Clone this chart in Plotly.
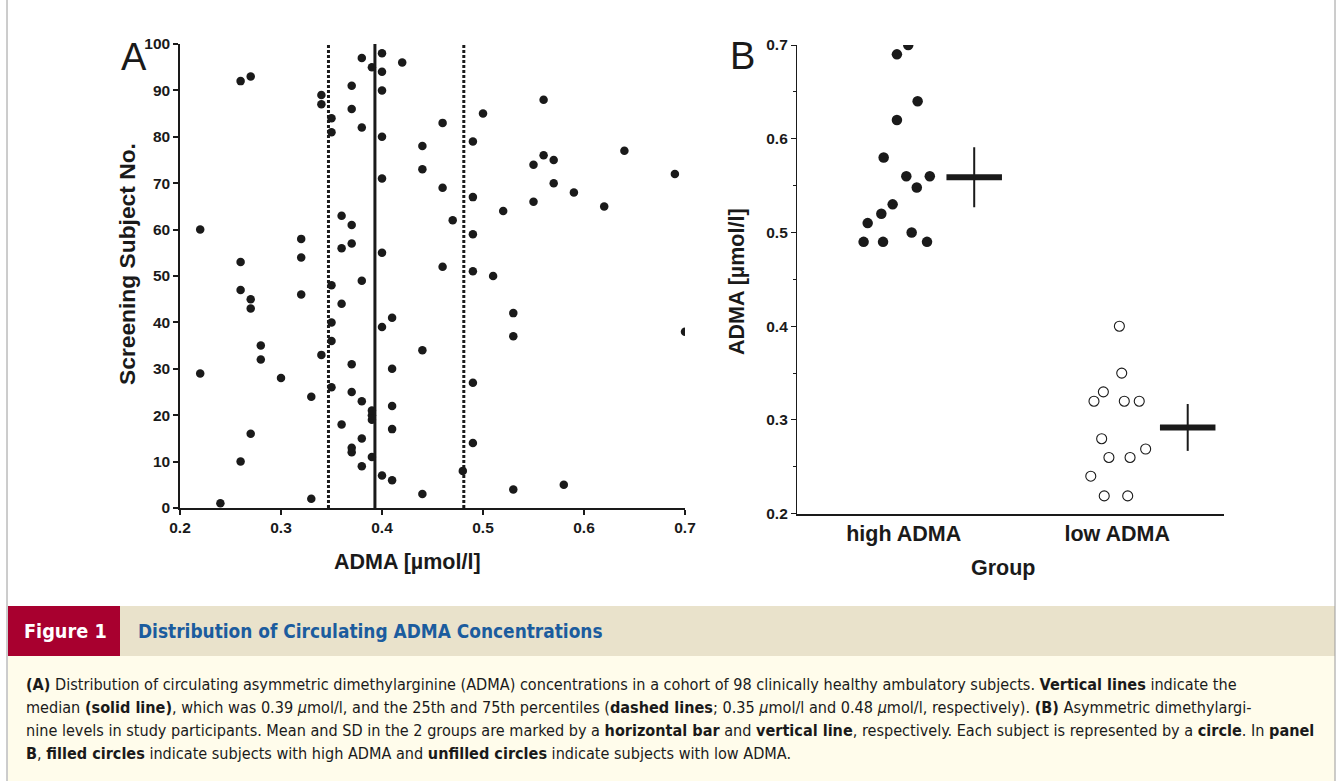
import plotly.graph_objects as go

W, H = 1341, 781

# ---------------- Data ----------------
# Panel A: ADMA concentration (µmol/l) for screening subjects 1..98
subject_no = list(range(1, 99))
adma_values = [
    0.24, 0.33, 0.44, 0.53, 0.58, 0.41, 0.40, 0.48, 0.38, 0.26,
    0.39, 0.37, 0.37, 0.49, 0.38, 0.27, 0.41, 0.36, 0.39, 0.39,
    0.39, 0.41, 0.38, 0.33, 0.37, 0.35, 0.49, 0.30, 0.22, 0.41,
    0.37, 0.28, 0.34, 0.44, 0.28, 0.35, 0.53, 0.70, 0.40, 0.35,
    0.41, 0.53, 0.27, 0.36, 0.27, 0.32, 0.26, 0.35, 0.38, 0.51,
    0.49, 0.46, 0.26, 0.32, 0.40, 0.36, 0.37, 0.32, 0.49, 0.22,
    0.37, 0.47, 0.36, 0.52, 0.62, 0.55, 0.49, 0.59, 0.46, 0.57,
    0.40, 0.69, 0.44, 0.55, 0.57, 0.56, 0.64, 0.44, 0.49, 0.40,
    0.35, 0.38, 0.46, 0.35, 0.50, 0.37, 0.34, 0.56, 0.34, 0.40,
    0.37, 0.26, 0.27, 0.40, 0.39, 0.42, 0.38, 0.40,
]
median_adma = 0.393
p25_adma = 0.347
p75_adma = 0.481
xticks_a = [0.2, 0.3, 0.4, 0.5, 0.6, 0.7]
yticks_a = list(range(0, 101, 10))

# Panel B: groups
groups = ["high ADMA", "low ADMA"]
high_adma = [0.70, 0.69, 0.64, 0.62, 0.58, 0.56, 0.56, 0.548, 0.53, 0.52,
             0.51, 0.50, 0.49, 0.49, 0.49]
high_jitter = [0.021, -0.032, 0.065, -0.032, -0.094, 0.012, 0.122, 0.061,
               -0.052, -0.105, -0.169, 0.037, -0.188, -0.097, 0.109]
low_adma = [0.40, 0.35, 0.33, 0.32, 0.32, 0.32, 0.28, 0.269, 0.26, 0.26,
            0.24, 0.219, 0.219]
low_jitter = [0.010, 0.021, -0.065, -0.109, 0.033, 0.103, -0.073, 0.133,
              -0.039, 0.060, -0.124, -0.061, 0.049]
group_mean = [0.559, 0.292]
group_sd = [0.032, 0.025]
yticks_b = [0.2, 0.3, 0.4, 0.5, 0.6, 0.7]

# ---------------- Helpers ----------------
def pxx(x):
    return x / W


def pxy(y):
    return 1 - y / H


FONT = "Liberation Sans, Arial, Helvetica, sans-serif"
NARROW = "DejaVu Sans Condensed, Liberation Sans Narrow, Arial Narrow, sans-serif"
INK = "#1a1a1a"

fig = go.Figure()

# ---- Panel A ----
fig.add_trace(go.Scatter(
    x=adma_values, y=subject_no, mode="markers",
    marker=dict(size=8.5, color=INK, line=dict(width=0)),
    xaxis="x", yaxis="y", showlegend=False, hoverinfo="x+y"))
for val, dash in [(p25_adma, "3px,2px"), (median_adma, "solid"),
                  (p75_adma, "3px,2px")]:
    fig.add_trace(go.Scatter(
        x=[val, val], y=[0, 100], mode="lines",
        line=dict(color=INK, width=3, dash=dash),
        xaxis="x", yaxis="y", showlegend=False, hoverinfo="skip"))

# ---- Panel B ----
center_pos = {g: i + 1 for i, g in enumerate(groups)}
fig.add_trace(go.Scatter(
    x=[center_pos[groups[0]] + j for j in high_jitter], y=high_adma,
    mode="markers", marker=dict(size=10.5, color=INK, line=dict(width=0)),
    xaxis="x2", yaxis="y2", showlegend=False))
fig.add_trace(go.Scatter(
    x=[center_pos[groups[1]] + j for j in low_jitter], y=low_adma,
    mode="markers",
    marker=dict(size=10, color="white", symbol="circle",
                line=dict(width=1.1, color=INK)),
    xaxis="x2", yaxis="y2", showlegend=False))

bar_offset = 0.33
bar_half = 0.13
for i, g in enumerate(groups):
    cx = center_pos[g] + bar_offset
    m, s = group_mean[i], group_sd[i]
    fig.add_trace(go.Scatter(
        x=[cx - bar_half, cx + bar_half], y=[m, m], mode="lines",
        line=dict(color=INK, width=6), xaxis="x2", yaxis="y2",
        showlegend=False, hoverinfo="skip"))
    fig.add_trace(go.Scatter(
        x=[cx, cx], y=[m - s, m + s], mode="lines",
        line=dict(color=INK, width=2), xaxis="x2", yaxis="y2",
        showlegend=False, hoverinfo="skip"))

tickfont = dict(family=FONT, size=15.5, color=INK)

fig.update_layout(
    width=W, height=H,
    margin=dict(l=0, r=0, t=0, b=0, pad=0, autoexpand=False),
    paper_bgcolor="white", plot_bgcolor="rgba(0,0,0,0)",
    xaxis=dict(
        domain=[pxx(180), pxx(685)], range=[0.2, 0.7], anchor="y",
        tickvals=xticks_a, ticktext=[f"<b>{v}</b>" for v in xticks_a],
        ticks="outside", ticklen=5, tickwidth=1.5, tickcolor=INK,
        showline=True, linecolor=INK, linewidth=1.5, showgrid=False,
        zeroline=False, tickfont=tickfont, automargin=False),
    yaxis=dict(
        domain=[pxy(508), pxy(44)], range=[0, 100], anchor="x",
        tickvals=yticks_a, ticktext=[f"<b>{v}</b>" for v in yticks_a],
        ticks="outside", ticklen=5, tickwidth=1.5, tickcolor=INK,
        showline=True, linecolor=INK, linewidth=1.5, showgrid=False,
        zeroline=False, tickfont=tickfont, automargin=False),
    xaxis2=dict(
        domain=[pxx(797), pxx(1224)], range=[0.5, 2.5], anchor="y2",
        tickvals=[1, 2], ticktext=[f"<b>{g}</b>" for g in groups],
        ticks="", showline=True, linecolor=INK, linewidth=1.5,
        showgrid=False, zeroline=False, automargin=False,
        tickfont=dict(family=FONT, size=21.5, color=INK)),
    yaxis2=dict(
        domain=[pxy(513.7), pxy(45)], range=[0.2, 0.7], anchor="x2",
        tickvals=yticks_b, ticktext=[f"<b>{v}</b>" for v in yticks_b],
        ticks="outside", ticklen=5, tickwidth=1.2, tickcolor=INK,
        minor=dict(dtick=0.05, tick0=0.2, ticks="outside", ticklen=3,
                   tickwidth=1, tickcolor=INK),
        showline=True, linecolor=INK, linewidth=1.2, showgrid=False,
        zeroline=False, tickfont=tickfont, automargin=False),
)

ann = []


def add_text(text, x, y, size, color=INK, family=FONT, xanchor="center",
             yanchor="middle", angle=0):
    ann.append(dict(text=text, x=pxx(x), y=pxy(y), xref="paper", yref="paper",
                    showarrow=False, xanchor=xanchor, yanchor=yanchor,
                    textangle=angle,
                    font=dict(family=family, size=size, color=color)))


add_text("A", 134, 57, 38)
add_text("B", 742, 56, 38)
add_text("<b>Screening Subject No.</b>", 127, 264, 22.8, angle=-90)
add_text("<b>ADMA [µmol/l]</b>", 407, 562, 21.5)
add_text("<b>ADMA [µmol/l]</b>", 737, 282, 21.5, angle=-90)
add_text("<b>Group</b>", 1003, 568, 21.5)

# ---- Caption panel ----
shapes = []
shapes.append(dict(type="rect", xref="paper", yref="paper",
                   x0=pxx(8), x1=pxx(1335), y0=pxy(656), y1=pxy(606),
                   fillcolor="#E9E2CB", line=dict(width=0), layer="below"))
shapes.append(dict(type="rect", xref="paper", yref="paper",
                   x0=pxx(8), x1=pxx(120), y0=pxy(656), y1=pxy(606),
                   fillcolor="#A8002F", line=dict(width=0), layer="below"))
shapes.append(dict(type="rect", xref="paper", yref="paper",
                   x0=pxx(8), x1=pxx(1335), y0=pxy(781), y1=pxy(656),
                   fillcolor="#FFFCEB", line=dict(width=0), layer="below"))
shapes.append(dict(type="line", xref="paper", yref="paper",
                   x0=pxx(7), x1=pxx(7), y0=0, y1=1,
                   line=dict(color="#9a9a9a", width=1)))
shapes.append(dict(type="line", xref="paper", yref="paper",
                   x0=pxx(1335), x1=pxx(1335), y0=0, y1=1,
                   line=dict(color="#9a9a9a", width=1)))

add_text("<b>Figure 1</b>", 65, 631, 19.7, color="white", family=NARROW)
add_text("<b>Distribution of Circulating ADMA Concentrations</b>", 136, 631, 18.9,
         color="#1B5C9E", family=NARROW, xanchor="left")

mu = "<i>μ</i>"
caption_lines = [
    "<b>(A)</b> Distribution of circulating asymmetric dimethylarginine (ADMA) concentrations in a cohort of 98 clinically healthy ambulatory subjects. <b>Vertical lines</b> indicate the",
    f"median <b>(solid line)</b>, which was 0.39 {mu}mol/l, and the 25th and 75th percentiles (<b>dashed lines</b>; 0.35 {mu}mol/l and 0.48 {mu}mol/l, respectively). <b>(B)</b> Asymmetric dimethylargi-",
    "nine levels in study participants. Mean and SD in the 2 groups are marked by a <b>horizontal bar</b> and <b>vertical line</b>, respectively. Each subject is represented by a <b>circle</b>. In <b>panel</b>",
    "<b>B</b>, <b>filled circles</b> indicate subjects with high ADMA and <b>unfilled circles</b> indicate subjects with low ADMA.",
]
for i, line in enumerate(caption_lines):
    add_text(line, 24, 684 + i * 23.3, 16.1, family=NARROW, xanchor="left")

fig.update_layout(annotations=ann, shapes=shapes)

fig.write_html(
    "out.html",
    config={"displayModeBar": False},
    post_script="document.body.style.margin='0';document.body.style.overflow='hidden';",
)
